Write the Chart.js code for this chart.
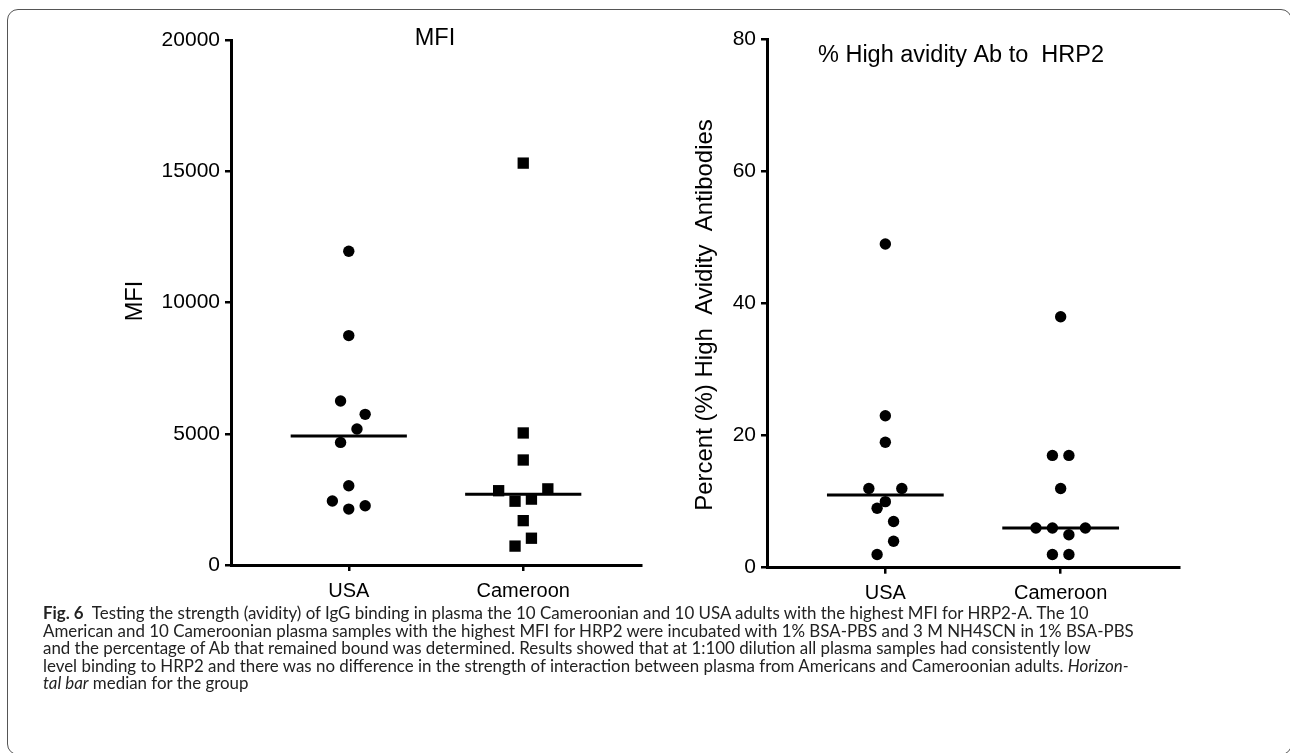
<!DOCTYPE html>
<html><head><meta charset="utf-8">
<script src="https://cdn.jsdelivr.net/npm/chart.js@4/dist/chart.umd.min.js"></script>
<style>
html,body{margin:0;padding:0;background:#fff;width:1290px;height:753px;overflow:hidden;}
#frame{position:absolute;left:7px;top:9px;width:1285px;height:746px;box-sizing:border-box;border:1.5px solid #555;border-radius:11px;}
#c1{position:absolute;left:0;top:0;}
#c2{position:absolute;left:650px;top:0;}
#caption{position:absolute;left:43px;top:604px;font-family:Lato,'Open Sans',sans-serif;font-size:16.9px;line-height:17.5px;color:#222;}
#caption div{white-space:nowrap;}
</style></head><body>
<div id="frame"></div>
<canvas id="c1" width="650" height="620"></canvas>
<canvas id="c2" width="640" height="620"></canvas>
<div id="caption">
<div><b>Fig. 6</b>&nbsp;&nbsp;Testing the strength (avidity) of IgG binding in plasma the 10 Cameroonian and 10 USA adults with the highest MFI for HRP2-A. The 10</div>
<div>American and 10 Cameroonian plasma samples with the highest MFI for HRP2 were incubated with 1% BSA-PBS and 3 M NH4SCN in 1% BSA-PBS</div>
<div>and the percentage of Ab that remained bound was determined. Results showed that at 1:100 dilution all plasma samples had consistently low</div>
<div>level binding to HRP2 and there was no difference in the strength of interaction between plasma from Americans and Cameroonian adults. <i>Horizon-</i></div>
<div><i>tal bar</i> median for the group</div>
</div>
<script>
// ---- data ----
const categories = ['USA', 'Cameroon'];
const mfiTicks = [0, 5000, 10000, 15000, 20000];
const avidityTicks = [0, 20, 40, 60, 80];

const usaMFI = [11950, 8740, 6250, 5740, 5180, 4670, 3020, 2440, 2130, 2260];
const usaMFIJitter = [0, 0, -1, 2, 1, -1, 0, -2, 0, 2];
const cameroonMFI = [15310, 5030, 4000, 2830, 2900, 2430, 2510, 1690, 1020, 720];
const cameroonMFIJitter = [0, 0, 0, -3, 3, -1, 1, 0, 1, -1];
const mfiMedians = [4910, 2700];

const usaAvidity = [49, 23, 19, 12, 12, 10, 9, 7, 4, 2];
const usaAvidityJitter = [0, 0, 0, -2, 2, 0, -1, 1, 1, -1];
const cameroonAvidity = [38, 17, 17, 12, 6, 6, 6, 5, 2, 2];
const cameroonAvidityJitter = [0, -1, 1, 0, -3, -1, 3, 1, -1, 1];
const avidityMedians = [11, 6];

// ---- helpers ----
const STEP = 0.047, HALF = 0.333;
function pts(values, jitter, ci) { return values.map((v, i) => ({ x: ci + 1 + jitter[i] * STEP, y: v })); }
function medLine(m, ci) { return [{ x: ci + 1 - HALF, y: m }, { x: ci + 1 + HALF, y: m }]; }

const FONT = "'Liberation Sans', Arial, sans-serif";

const textPlugin = {
  id: 'texts',
  afterDraw(chart, args, opts) {
    const ctx = chart.ctx;
    (opts.items || []).forEach(t => {
      ctx.save();
      ctx.font = t.size + 'px ' + FONT;
      ctx.fillStyle = '#000';
      ctx.textAlign = 'center';
      ctx.textBaseline = 'alphabetic';
      ctx.translate(t.x, t.y);
      if (t.rot) ctx.rotate(t.rot);
      ctx.fillText(t.text, 0, 0);
      ctx.restore();
    });
  }
};

function scales(yTicks, yWidth, xHeight) {
  return {
    x: {
      type: 'linear', min: 0.325, max: 2.675,
      afterBuildTicks: s => { s.ticks = categories.map((c, i) => ({ value: i + 1 })); },
      afterFit: s => { s.height = xHeight; },
      ticks: { callback: v => categories[Math.round(v) - 1] || '', font: { family: FONT, size: 20 }, color: '#000', padding: 8, autoSkip: false, maxRotation: 0 },
      grid: { drawOnChartArea: false, drawTicks: true, tickLength: 6, tickWidth: 2.5, tickColor: '#000', lineWidth: 2.5, color: '#000' },
      border: { display: true, color: '#000', width: 3 }
    },
    y: {
      type: 'linear', min: yTicks[0], max: yTicks[yTicks.length - 1],
      afterBuildTicks: s => { s.ticks = yTicks.map(v => ({ value: v })); },
      afterFit: s => { s.width = yWidth; },
      ticks: { callback: v => String(v), font: { family: FONT, size: 21 }, color: '#000', padding: 5 },
      grid: { drawOnChartArea: false, drawTicks: true, tickLength: 6, tickWidth: 2.5, tickColor: '#000', lineWidth: 2.5, color: '#000' },
      border: { display: true, color: '#000', width: 3 }
    }
  };
}

function dotSet(data, style, r) {
  return { data, pointStyle: style, pointRadius: r, pointHoverRadius: r, backgroundColor: '#000', borderColor: '#000', borderWidth: 0, showLine: false };
}
function lineSet(data) {
  return { data, showLine: true, borderColor: '#000', borderWidth: 3, pointRadius: 0, fill: false };
}

new Chart(document.getElementById('c1'), {
  type: 'scatter',
  data: {
    datasets: [
      dotSet(pts(usaMFI, usaMFIJitter, 0), 'circle', 5.7),
      dotSet(pts(cameroonMFI, cameroonMFIJitter, 1), 'rect', 8),
      lineSet(medLine(mfiMedians[0], 0)),
      lineSet(medLine(mfiMedians[1], 1))
    ]
  },
  options: {
    responsive: false, animation: false,
    layout: { padding: { left: 150, right: 9, top: 40, bottom: 0 } },
    scales: scales(mfiTicks, 81, 55),
    plugins: {
      legend: { display: false }, tooltip: { enabled: false },
      texts: { items: [
        { text: 'MFI', x: 435, y: 45, size: 23.5 },
        { text: 'MFI', x: 141.5, y: 301, size: 23.5, rot: -Math.PI / 2 }
      ] }
    }
  },
  plugins: [textPlugin]
});

new Chart(document.getElementById('c2'), {
  type: 'scatter',
  data: {
    datasets: [
      dotSet(pts(usaAvidity, usaAvidityJitter, 0), 'circle', 5.7),
      dotSet(pts(cameroonAvidity, cameroonAvidityJitter, 1), 'circle', 5.7),
      lineSet(medLine(avidityMedians[0], 0)),
      lineSet(medLine(avidityMedians[1], 1))
    ]
  },
  options: {
    responsive: false, animation: false,
    layout: { padding: { left: 40, right: 111, top: 39.3, bottom: 0 } },
    scales: scales(avidityTicks, 77, 52.3),
    plugins: {
      legend: { display: false }, tooltip: { enabled: false },
      texts: { items: [
        { text: '% High avidity Ab to  HRP2', x: 311, y: 62.3, size: 23.5 },
        { text: 'Percent (%) High  Avidity  Antibodies', x: 61.7, y: 315, size: 24, rot: -Math.PI / 2 }
      ] }
    }
  },
  plugins: [textPlugin]
});
</script>
</body></html>
